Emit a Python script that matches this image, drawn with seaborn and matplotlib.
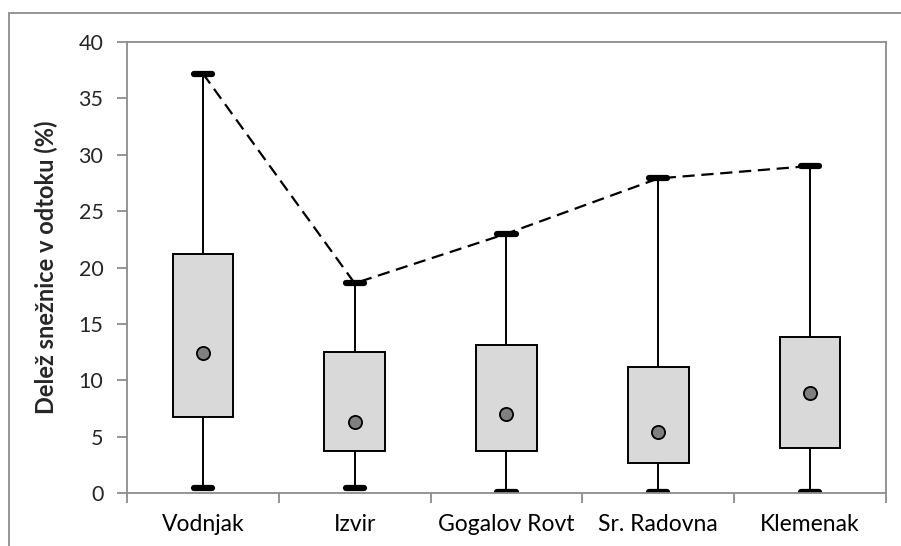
import matplotlib
matplotlib.use("Agg")
import matplotlib.pyplot as plt
import seaborn as sns
import pandas as pd
from matplotlib.patches import Rectangle

categories = ["Vodnjak", "Izvir", "Gogalov Rovt", "Sr. Radovna", "Klemenak"]
mins = [0.4, 0.4, 0.1, 0.1, 0.05]
q1s = [6.7, 3.7, 3.75, 2.65, 4.0]
dots = [12.4, 6.3, 7.0, 5.4, 8.9]
q3s = [21.2, 12.5, 13.1, 11.2, 13.8]
maxs = [37.2, 18.6, 23.0, 27.9, 29.0]
yticks = [0, 5, 10, 15, 20, 25, 30, 35, 40]
ylabel = "Delež snežnice v odtoku (%)"

rows = []
for c, a, b, m, d, e in zip(categories, mins, q1s, dots, q3s, maxs):
    for v in (a, b, m, d, e):
        rows.append({"site": c, "value": v})
df = pd.DataFrame(rows)
means = pd.DataFrame({"site": categories, "value": dots})
tops = pd.DataFrame({"site": categories, "value": maxs})

sns.set_theme(style="white")
plt.rcParams["font.family"] = ["Lato", "DejaVu Sans"]

fig = plt.figure(figsize=(9.01, 5.46), dpi=100)
fig.patches.append(Rectangle((9 / 901, -0.2), 1.2, 1 - 13 / 546 + 0.2,
                             transform=fig.transFigure, fill=False,
                             edgecolor="#8c8c8c", linewidth=1.3))
ax = fig.add_axes([127 / 901, 1 - 493 / 546, (886 - 127) / 901, (493 - 42) / 546])

line_kw = dict(color="black", linewidth=1.4)
sns.boxplot(data=df, x="site", y="value", order=categories, ax=ax,
            whis=(0, 100), width=0.4, color="#d9d9d9", saturation=1,
            linecolor="black", linewidth=1.4,
            boxprops=dict(facecolor="#d9d9d9", edgecolor="black", linewidth=1.4),
            whiskerprops=line_kw,
            capprops=dict(color="black", linewidth=4.5),
            medianprops=dict(visible=False),
            capwidths=0.12, showfliers=False)

sns.lineplot(data=tops, x="site", y="value", sort=False, ax=ax,
             color="black", linewidth=1.6, dashes=False, zorder=1,
             linestyle=(0, (5.5, 3)))

sns.scatterplot(data=means, x="site", y="value", ax=ax, s=90,
                color="#808080", edgecolor="black", linewidth=1.3, zorder=5)

ax.set_xlim(-0.5, 4.5)
ax.set_ylim(0, 40)
ax.set_yticks(yticks)
ax.set_yticklabels([str(t) for t in yticks])
ax.set_xticks(range(len(categories)))
ax.set_xticklabels(categories)
ax.set_xticks([i - 0.5 for i in range(len(categories) + 1)], minor=True)
ax.tick_params(axis="x", which="major", length=0, pad=15, labelsize=16.5, colors="black")
ax.tick_params(axis="x", which="minor", length=7, width=1.3, color="#8c8c8c", direction="out", bottom=True)
ax.tick_params(axis="y", which="major", length=7, width=1.3, color="#8c8c8c", direction="out", left=True, labelsize=15.5, pad=10)
for sp in ax.spines.values():
    sp.set_color("#8c8c8c")
    sp.set_linewidth(1.3)
ax.set_xlabel("")
ax.set_ylabel(ylabel, fontsize=17, fontweight="bold")
ax.yaxis.set_label_coords(-0.091, 0.5)

fig.savefig("out.png", dpi=100)
